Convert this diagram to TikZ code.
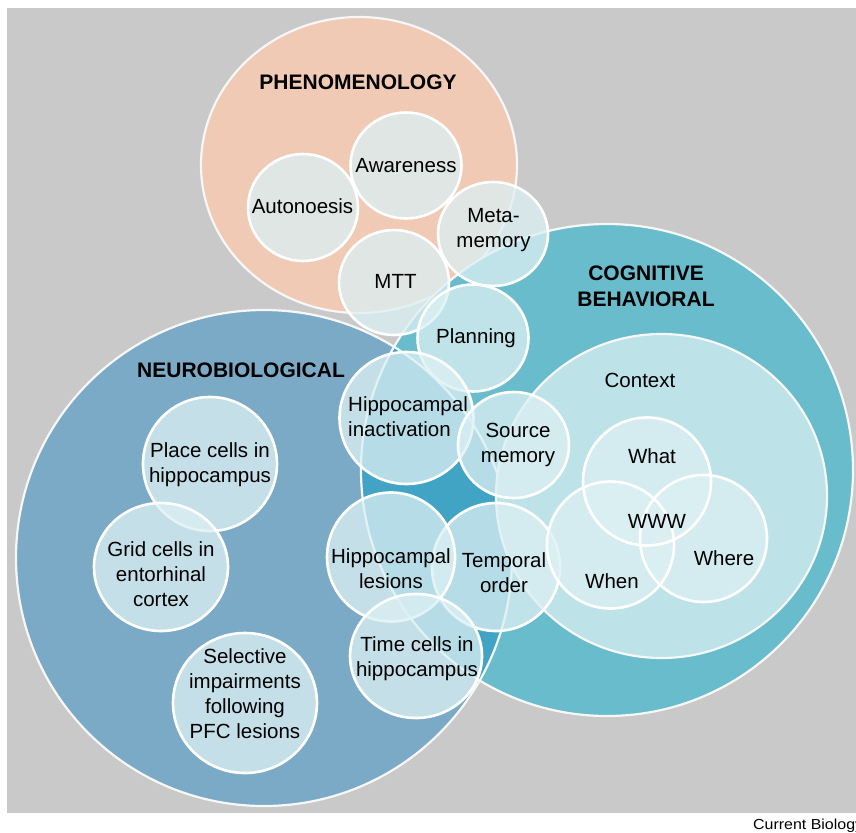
\documentclass[tikz,border=0pt]{standalone}
\usepackage{fontspec}
\setmainfont{Liberation Sans}
\definecolor{bggray}{HTML}{C9C9C9}
\definecolor{phencol}{HTML}{F0CAB5}
\definecolor{neurocol}{HTML}{7BAAC6}
\definecolor{cogcol}{HTML}{69BCCB}
\definecolor{bothcol}{HTML}{41A4C4}
\definecolor{ctxcol}{HTML}{BDE3E8}
\definecolor{bubblecol}{HTML}{DCF0F3}
\begin{document}
\begin{tikzpicture}[x=1pt,y=-1pt,
  bigedge/.style={draw=white!94!gray, line width=2.2pt},
  bubblefill/.style={fill=bubblecol, fill opacity=0.76},
  bubbleedge/.style={draw=white, line width=2.6pt},
  bubble/.style={bubblefill, bubbleedge},
  lbl/.style={font=\fontsize{20.5}{25}\selectfont, align=center, inner sep=0pt,
    execute at begin node=\strut, execute at end node=\strut},
  head/.style={font=\bfseries\fontsize{21}{26}\selectfont, align=center, inner sep=0pt,
    execute at begin node=\strut, execute at end node=\strut}]
\useasboundingbox (0,0) rectangle (856,832);
\clip (0,0) rectangle (856,832);

% panel
\fill[bggray] (7,8) rectangle (856,813);

% the three domains
\fill[phencol] (359,165) ellipse [x radius=158pt, y radius=148pt];
\draw[bigedge] (359,165) ellipse [x radius=158pt, y radius=148pt];
\fill[neurocol] (264,558) circle [radius=248pt];
\fill[cogcol] (607,470) circle [radius=246pt];
\begin{scope}
  \clip (264,558) circle [radius=248pt];
  \fill[bothcol] (607,470) circle [radius=246pt];
\end{scope}
\draw[bigedge] (264,558) circle [radius=248pt];
\draw[bigedge] (607,470) circle [radius=246pt];

% context
\fill[ctxcol] (661.5,496) ellipse [x radius=165.5pt, y radius=162pt];
\draw[bigedge] (661.5,496) ellipse [x radius=165.5pt, y radius=162pt];

% bubbles
\path[bubble] (303,207.5) ellipse [x radius=55pt, y radius=53.5pt];
\path[bubble] (406,165.5) ellipse [x radius=55.5pt, y radius=53pt];
\path[bubble] (493,234) ellipse [x radius=55pt, y radius=52pt];
\path[bubble] (394,282.5) ellipse [x radius=55pt, y radius=52.5pt];
\path[bubble] (473,338) ellipse [x radius=55.5pt, y radius=53.5pt];
\path[bubble] (406.5,418) ellipse [x radius=67pt, y radius=66pt];
\path[bubble] (513.5,445) ellipse [x radius=55.5pt, y radius=53pt];
\path[bubble] (210,464) ellipse [x radius=67pt, y radius=67pt];
\path[bubble] (161,567) ellipse [x radius=67pt, y radius=64pt];
\path[bubble] (245,703) ellipse [x radius=72pt, y radius=70pt];
\path[bubble] (496,567) ellipse [x radius=64pt, y radius=64pt];
\path[bubble] (391,557) ellipse [x radius=64pt, y radius=64.5pt];
\path[bubble] (416,656) ellipse [x radius=66pt, y radius=62pt];
\path[bubblefill] (647,481.5) circle [radius=64pt];
\path[bubblefill] (610.5,545) circle [radius=63.5pt];
\path[bubblefill] (703.5,538.5) circle [radius=63.5pt];
\path[bubbleedge] (647,481.5) circle [radius=64pt];
\path[bubbleedge] (610.5,545) circle [radius=63.5pt];
\path[bubbleedge] (703.5,538.5) circle [radius=63.5pt];

% headings
\node[head] (phen) at (358,84.4) {PHENOMENOLOGY};
\node[head] (neuro) at (241,372.4) {NEUROBIOLOGICAL};
\node[head] (cog) at (646,289.8) {COGNITIVE\\BEHAVIORAL};

% labels
\node[lbl] (autonoesis) at (302.5,208) {Autonoesis};
\node[lbl] (awareness) at (406,167.4) {Awareness};
\node[lbl] (mtt) at (395.5,283) {MTT};
\node[lbl] (metamem) at (493.5,231.5) {Meta-\\memory};
\node[lbl] (planning) at (476,338.4) {Planning};
\node[lbl, align=left, anchor=west] (hipinact) at (348,420.4) {Hippocampal\\inactivation};
\node[lbl] (source) at (518,447) {Source\\memory};
\node[lbl] (context) at (640,382.4) {Context};
\node[lbl] (what) at (652,458.4) {What};
\node[lbl] (www) at (657,523.4) {WWW};
\node[lbl] (where) at (724,560.4) {Where};
\node[lbl] (when) at (612,583.4) {When};
\node[lbl] (temporal) at (504,576.4) {Temporal\\order};
\node[lbl] (hiplesion) at (391,572) {Hippocampal\\lesions};
\node[lbl] (timecells) at (417,660.4) {Time cells in\\hippocampus};
\node[lbl] (placecells) at (210,466) {Place cells in\\hippocampus};
\node[lbl] (gridcells) at (161,578) {Grid cells in\\entorhinal\\cortex};
\node[lbl] (selective) at (245,697) {Selective\\impairments\\following\\PFC lesions};

% credit line
\node[anchor=base west, inner sep=0pt, font=\fontsize{14.5}{17}\selectfont] (credit) at (753,829) {\scalebox{1.1}[1]{Current Biology}};
\end{tikzpicture}
\end{document}
